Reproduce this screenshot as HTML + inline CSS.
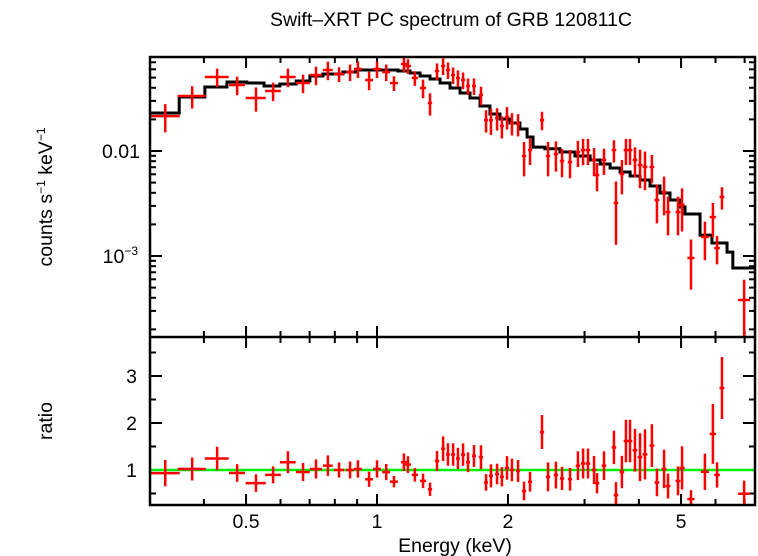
<!DOCTYPE html>
<html><head><meta charset="utf-8">
<style>
html,body{margin:0;padding:0;background:#fff;}
svg{display:block;font-family:"Liberation Sans",sans-serif;}
</style></head>
<body>
<svg id="chart" width="758" height="556" viewBox="0 0 758 556">
<text x="451" y="26" text-anchor="middle" font-size="19.5">Swift–XRT PC spectrum of GRB 120811C</text>
<text transform="translate(52,197) rotate(-90)" text-anchor="middle" font-size="19.5">counts s<tspan font-size="12" dy="-7">−1</tspan><tspan dy="7"> keV</tspan><tspan font-size="12" dy="-7">−1</tspan></text>
<text transform="translate(52,421) rotate(-90)" text-anchor="middle" font-size="19.5">ratio</text>
<text x="455" y="552" text-anchor="middle" font-size="19.5">Energy (keV)</text>
<g id="g-ticks"></g>
<g id="g-model"></g>
<g id="g-data"></g>
<g id="g-ratio"></g>
<rect x="150" y="57" width="605" height="448" fill="none" stroke="#000" stroke-width="2.5"/>
<line x1="150" y1="337" x2="755" y2="337" stroke="#000" stroke-width="2.5"/>
</svg>
<script>
const energy=[0.326,0.376,0.429,0.477,0.527,0.577,0.624,0.676,0.724,0.771,0.818,0.867,0.904,0.959,1.0,1.05,1.094,1.153,1.178,1.222,1.276,1.324,
1.374,1.419,1.456,1.496,1.535,1.577,1.619,1.671,1.734,1.781,1.828,1.888,1.937,1.990,2.043,2.110,2.178,2.248,2.395,2.473,2.578,2.663,2.778,2.897,2.977,3.055,3.155,3.205,3.325,3.505,3.543,3.656,3.735,3.816,3.918,4.024,4.131,4.285,4.401,4.570,4.667,4.920,5.027,5.270,5.673,5.918,6.050,6.209,6.982];
const energyHalfWidth=[0.026,0.028,0.027,0.02,0.028,0.024,0.026,0.025,0.023,0.02,0.022,0.018,0.019,0.02,0.021,0.022,0.023,0.018,0.019,0.02,0.021,0.015,
0.016,0.015,0.015,0.016,0.016,0.017,0.017,0.018,0.019,0.019,0.02,0.02,0.021,0.022,0.022,0.023,0.024,0.025,0.027,0.028,0.03,0.031,0.032,0.034,0.035,0.036,0.037,0.038,0.04,0.042,0.043,0.044,0.045,0.046,0.048,0.05,0.052,0.054,0.056,0.058,0.06,0.065,0.07,0.1,0.12,0.1,0.09,0.08,0.22];
const flux=[0.0215,0.0334,0.0507,0.0425,0.0320,0.0373,0.0507,0.0444,0.0529,0.0591,0.0541,0.0565,0.0604,0.0474,0.0604,0.0565,0.0444,0.0674,0.0645,0.0496,0.0398,0.0286,
0.0578,0.0645,0.0591,0.0529,0.0496,0.0474,0.0416,0.0416,0.0341,0.0197,0.0197,0.0206,0.0173,0.0211,0.0185,0.0181,0.00896,0.0102,0.0197,0.00896,
0.00936,0.00803,0.00785,0.00978,0.0102,0.0102,0.00821,0.0059,0.00821,0.0102,0.0032,0.00604,0.0102,0.0102,0.00821,0.00736,0.00705,0.00705,0.00341,0.00407,
0.00262,0.00262,0.00306,0.000957,0.00152,0.00235,0.00119,0.00365,0.000381];
const fluxRelErr=[0.3,0.24,0.2,0.2,0.26,0.2,0.2,0.2,0.2,0.2,0.16,0.18,0.18,0.2,0.18,0.18,0.16,0.16,0.16,0.16,0.2,0.24,
0.18,0.18,0.18,0.18,0.18,0.18,0.18,0.18,0.2,0.24,0.28,0.24,0.24,0.24,0.24,0.24,0.36,0.28,0.2,0.36,
0.32,0.3,0.3,0.28,0.28,0.28,0.3,0.3,0.28,0.24,0.6,0.36,0.28,0.28,0.32,0.4,0.4,0.3,0.4,0.4,
0.4,0.4,0.44,0.5,0.4,0.36,0.3,0.24,0.56];
const modelEdges=[0.301,0.351,0.402,0.452,0.502,0.550,0.598,0.652,0.701,0.751,0.835,0.900,1.117,1.191,1.256,1.324,1.396,1.472,1.552,1.636,1.725,1.818,1.917,2.021,2.131,2.213,2.284,2.432,2.634,2.852,3.090,3.258,3.435,3.621,3.818,4.025,4.243,4.473,4.716,4.972,5.105,5.529,5.888,6.378,6.577,7.39];
const modelFlux=[0.0230,0.0327,0.0407,0.0454,0.0444,0.0416,0.0435,0.0464,0.0518,0.0541,0.0565,0.0591,0.0578,0.0553,0.0518,0.0485,0.0444,0.0398,0.0357,0.0320,0.0268,0.0225,0.0202,0.0185,0.0162,0.0136,0.0109,0.0105,0.00978,0.00896,0.00821,0.00752,0.00689,0.00631,0.00578,0.00529,0.00464,0.00398,0.00341,0.00293,0.00251,0.00158,0.00133,0.00109,0.000769];
const xTickLabels=[0.5,1,2,5];
const ratioTickLabels=[1,2,3];

const NS="http://www.w3.org/2000/svg";
const X=e=>377+435*Math.log10(e);
const YT=f=>151-105*(Math.log10(f)+2);
const YR=r=>470-47*(r-1);
function mk(tag,attrs,parent){const el=document.createElementNS(NS,tag);for(const k in attrs)el.setAttribute(k,attrs[k]);parent.appendChild(el);return el;}
const gT=document.getElementById('g-ticks'),gM=document.getElementById('g-model'),gD=document.getElementById('g-data'),gR=document.getElementById('g-ratio');
function tick(x1,y1,x2,y2){const l=mk('line',{x1,y1,x2,y2,stroke:'#000','stroke-width':2},gT);

}
const xMinor=[0.4,0.6,0.7,0.8,0.9,3,4,6,7];
xMinor.forEach(e=>{const x=X(e);tick(x,57,x,63);tick(x,337,x,331);tick(x,337,x,343);tick(x,505,x,499);});
xTickLabels.forEach(e=>{const x=X(e);tick(x,57,x,68);tick(x,337,x,326);tick(x,337,x,348);tick(x,505,x,494);
const t=mk('text',{x:x,y:528,'text-anchor':'middle','font-size':19.5},gT);t.textContent=String(e);

});
for(let d=-4;d<=-2;d++){for(let m=1;m<10;m++){const v=m*Math.pow(10,d);const y=YT(v);if(y<58||y>336)continue;const L=m===1?12:6;tick(150,y,150+L,y);tick(755,y,755-L,y);}}
let t1=mk('text',{x:140,y:158,'text-anchor':'end','font-size':19.5},gT);t1.textContent="0.01";


let t2=mk('text',{x:138,y:263,'text-anchor':'end','font-size':19.5},gT);t2.innerHTML='10<tspan font-size="12" dy="-8">−3</tspan>';


[0.5,1.5,2.5,3.5].forEach(r=>{const y=YR(r);tick(150,y,156,y);tick(755,y,749,y);});
ratioTickLabels.forEach(r=>{const y=YR(r);tick(150,y,162,y);tick(755,y,743,y);
const t=mk('text',{x:137,y:y+7,'text-anchor':'end','font-size':19.5},gT);t.textContent=String(r);

});
let d='';for(let i=0;i<modelFlux.length;i++){const y=YT(modelFlux[i]);d+=(i===0?'M':'L')+X(modelEdges[i])+','+y+'L'+X(modelEdges[i+1])+','+y;}
const mp=mk('path',{d:d,fill:'none',stroke:'#000','stroke-width':3},gM);


function modelAt(e){for(let i=0;i<modelFlux.length;i++){if(e<modelEdges[i+1])return modelFlux[i];}return modelFlux[modelFlux.length-1];}
const gl=mk('line',{x1:150,y1:YR(1),x2:755,y2:YR(1),stroke:'#00ee00','stroke-width':2.5},gR);


const clipY=(y,a,b)=>Math.max(a,Math.min(b,y));
energy.forEach((e,i)=>{
 const f=flux[i],err=f*fluxRelErr[i],dw=energyHalfWidth[i];
 const x1=X(e-dw),x2=X(e+dw),xc=X(e);
 const g=mk('g',{stroke:'#ff0000','stroke-width':2.5},gD);
 
 
 mk('line',{x1:Math.max(150,x1),y1:YT(f),x2:Math.min(755,x2),y2:YT(f)},g);
 mk('line',{x1:xc,y1:clipY(YT(f+err),57,337),x2:xc,y2:clipY(YT(Math.max(f-err,1e-5)),57,337)},g);
 const m=modelAt(e),r=f/m,re=err/m;
 const g2=mk('g',{stroke:'#ff0000','stroke-width':2.5},gR);
 
 
 mk('line',{x1:Math.max(150,x1),y1:YR(r),x2:Math.min(755,x2),y2:YR(r)},g2);
 mk('line',{x1:xc,y1:clipY(YR(r+re),338,505),x2:xc,y2:clipY(YR(r-re),338,505)},g2);
});
</script>
</body></html>
